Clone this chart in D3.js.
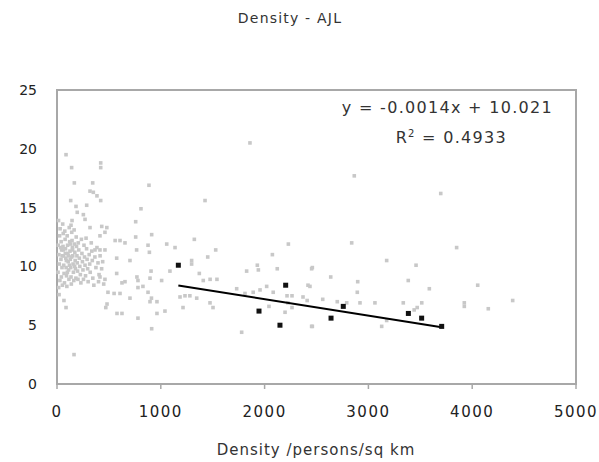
<!DOCTYPE html>
<html><head><meta charset="utf-8">
<script src="https://cdn.jsdelivr.net/npm/d3@7"></script>
<style>body{margin:0;background:#fff}text{font-family:"DejaVu Sans",sans-serif}</style>
</head><body><svg id="c" width="599" height="462"></svg>
<script>
const title = "Density - AJL";
const xTitle = "Density /persons/sq km";
const xTicks = [0,1000,2000,3000,4000,5000];
const yTicks = [0,5,10,15,20,25];
const slope = -0.0014, intercept = 10.021, r2 = "0.4933";
const trendRange = [1169, 3706];
const blackPoints = [[1169,10.1],[1946,6.2],[2203,8.4],[2148,5.0],[2640,5.6],[2758,6.6],[3385,6.0],[3513,5.6],[3706,4.9]];
const grayPoints = [
[87,19.5],[141,18.4],[421,18.8],[421,18.4],[167,17.1],[344,17.1],[886,16.9],[1859,20.5],
[318,16.4],[350,16.3],[385,16.0],[421,15.6],[132,15.6],[183,15.1],[195,14.6],[286,15.2],[809,14.9],[1426,15.6],
[254,14.4],[270,14.0],[145,13.9],[135,13.5],[431,13.4],[480,13.3],[318,13.3],[758,13.8],[912,12.7],[758,12.5],
[560,12.2],[607,12.2],[655,12.0],[414,12.6],[462,12.9],[1057,11.9],[1137,11.6],[1323,12.3],[877,11.8],[890,11.2],
[767,11.4],[366,11.4],[414,11.4],[462,11.4],[1529,11.4],[2229,11.9],[2075,11.0],[575,10.7],[703,10.5],[1452,10.8],
[1297,10.5],[1297,10.2],[1930,10.1],[1940,9.7],[2122,9.8],[2453,9.8],[1088,9.6],[906,9.6],[1371,9.4],[1827,9.6],
[575,9.4],[414,9.1],[462,8.9],[400,8.7],[450,8.5],[626,8.6],[655,8.7],[770,9.1],[780,8.8],[896,9.0],[1008,8.8],
[1409,8.8],[1475,8.9],[1541,8.9],[1731,8.1],[1811,7.7],[1890,7.8],[1956,8.0],[2020,8.3],[2083,7.8],[2216,7.5],[2264,7.5],
[2370,7.4],[2410,7.1],[2418,8.4],[491,7.8],[550,7.7],[607,7.7],[703,7.3],[780,8.2],[828,8.3],[877,7.8],[910,7.3],
[963,7.0],[896,7.0],[1185,7.4],[1233,7.5],[1280,7.5],[1346,7.3],[1474,6.9],[1503,6.5],[1214,6.5],[1040,6.2],[482,6.8],
[470,6.5],[578,6.0],[626,6.0],[780,5.6],[963,6.0],[912,4.7],[2042,6.6],[2225,6.9],[2264,6.5],[2197,6.1],[1779,4.4],
[2453,4.9],[164,2.5],[67,7.1],[87,6.5],
[2864,17.7],[3697,16.2],[2839,12.0],[3850,11.6],[3176,10.5],[3459,10.1],[2460,9.9],[2637,9.1],[2897,8.7],[3384,8.8],
[3587,8.1],[4053,8.4],[2893,7.8],[2437,8.3],[2919,6.9],[3063,6.9],[3336,6.9],[3514,6.9],[3441,6.3],[3470,6.5],
[3924,6.9],[3924,6.6],[4155,6.4],[4390,7.1],[2791,6.9],[2460,4.9],[3128,4.9],[3176,5.4],[2700,7.0],[2560,7.2],
[15,13.9],[25,12.6],[12,11.8],[18,11.0],[22,10.2],[10,9.5],[28,8.8],[16,8.2],[30,13.2],[20,7.6],
[40,12.1],[45,11.4],[38,10.6],[48,9.9],[42,9.1],[52,8.4],[55,13.6],[60,12.8],[58,11.7],[62,10.9],
[65,10.1],[68,9.4],[72,8.6],[75,13.0],[78,12.3],[82,11.5],[85,10.7],[88,9.9],[92,9.2],[95,8.3],
[98,12.6],[102,11.8],[105,11.1],[108,10.4],[112,9.7],[115,8.9],[118,13.3],[122,12.1],[125,11.3],[128,10.6],
[132,9.9],[135,9.1],[138,8.5],[142,12.9],[145,12.2],[148,11.6],[152,10.9],[155,10.2],[158,9.5],[162,8.8],
[165,13.1],[168,11.9],[172,11.2],[175,10.5],[178,9.8],[182,9.0],[185,12.5],[188,11.7],[192,10.9],[195,10.3],
[198,9.6],[202,8.9],[205,12.0],[210,11.4],[215,10.7],[220,10.0],[225,9.3],[230,8.6],[235,12.3],[240,11.1],
[245,10.4],[250,9.7],[255,8.9],[260,11.8],[265,10.8],[270,10.1],[275,9.2],[280,12.4],[285,11.5],[290,10.6],
[295,9.8],[300,8.7],[310,11.0],[315,10.2],[320,9.5],[330,12.0],[335,11.3],[340,10.5],[345,9.0],[355,8.4],
[365,10.8],[375,9.9],[385,11.6],[395,10.3],[405,9.3],[415,10.9],[430,9.8],[440,10.4],[50,10.9],[80,11.1],
[110,10.9],[140,10.8],[170,10.0],[120,10.1],[90,10.5],[60,11.4],[35,11.6],[130,11.9],[100,9.5],[150,11.4]
];

const svg = d3.select("#c");
const x = d3.scaleLinear().domain([0,5000]).range([57,576]);
const y = d3.scaleLinear().domain([0,25]).range([384,90]);

svg.append("text").attr("x",290).attr("y",23).attr("text-anchor","middle")
  .attr("font-size",14).attr("letter-spacing",1.2).attr("fill","#333").text(title);

// frame
svg.append("rect").attr("x",x(0)).attr("y",y(25)).attr("width",x(5000)-x(0)).attr("height",y(0)-y(25))
  .attr("fill","none").attr("stroke","#a8a8a8").attr("stroke-width",2);

// bottom ticks
svg.selectAll(".xt").data(xTicks).enter().append("line")
  .attr("x1",d=>x(d)).attr("x2",d=>x(d)).attr("y1",y(0)).attr("y2",y(0)+5)
  .attr("stroke","#a8a8a8").attr("stroke-width",1.5);
svg.selectAll(".xl").data(xTicks).enter().append("text")
  .attr("x",d=>x(d)).attr("y",417).attr("text-anchor","middle")
  .attr("font-size",15).attr("letter-spacing",1.5).attr("fill","#222").text(d=>d);
svg.selectAll(".yl").data(yTicks).enter().append("text")
  .attr("x",37).attr("y",d=>y(d)+5).attr("text-anchor","end")
  .attr("font-size",14).attr("fill","#222").text(d=>d);

svg.append("text").attr("x",316).attr("y",455).attr("text-anchor","middle")
  .attr("font-size",15).attr("letter-spacing",1).attr("fill","#333").text(xTitle);

// gray points
svg.selectAll(".g").data(grayPoints).enter().append("rect")
  .attr("x",d=>x(d[0])-1.8).attr("y",d=>y(d[1])-1.8).attr("width",3.6).attr("height",3.6)
  .attr("fill","#c8c8c8");

// trendline
svg.append("line").attr("x1",x(trendRange[0])).attr("y1",y(slope*trendRange[0]+intercept))
  .attr("x2",x(trendRange[1])).attr("y2",y(slope*trendRange[1]+intercept))
  .attr("stroke","#000").attr("stroke-width",2);

// black points
svg.selectAll(".b").data(blackPoints).enter().append("rect")
  .attr("x",d=>x(d[0])-2.5).attr("y",d=>y(d[1])-2.5).attr("width",5).attr("height",5)
  .attr("fill","#111");

svg.append("text").attr("x",553).attr("y",113).attr("text-anchor","end")
  .attr("font-size",16).attr("letter-spacing",1.3).attr("fill","#333").text("y = -0.0014x + 10.021");
const r = svg.append("text").attr("x",507).attr("y",143).attr("text-anchor","end")
  .attr("font-size",16).attr("letter-spacing",1.3).attr("fill","#333");
r.append("tspan").text("R");
r.append("tspan").attr("dy",-6).attr("font-size",10).text("2");
r.append("tspan").attr("dy",6).text(" = " + r2);
</script></body></html>
